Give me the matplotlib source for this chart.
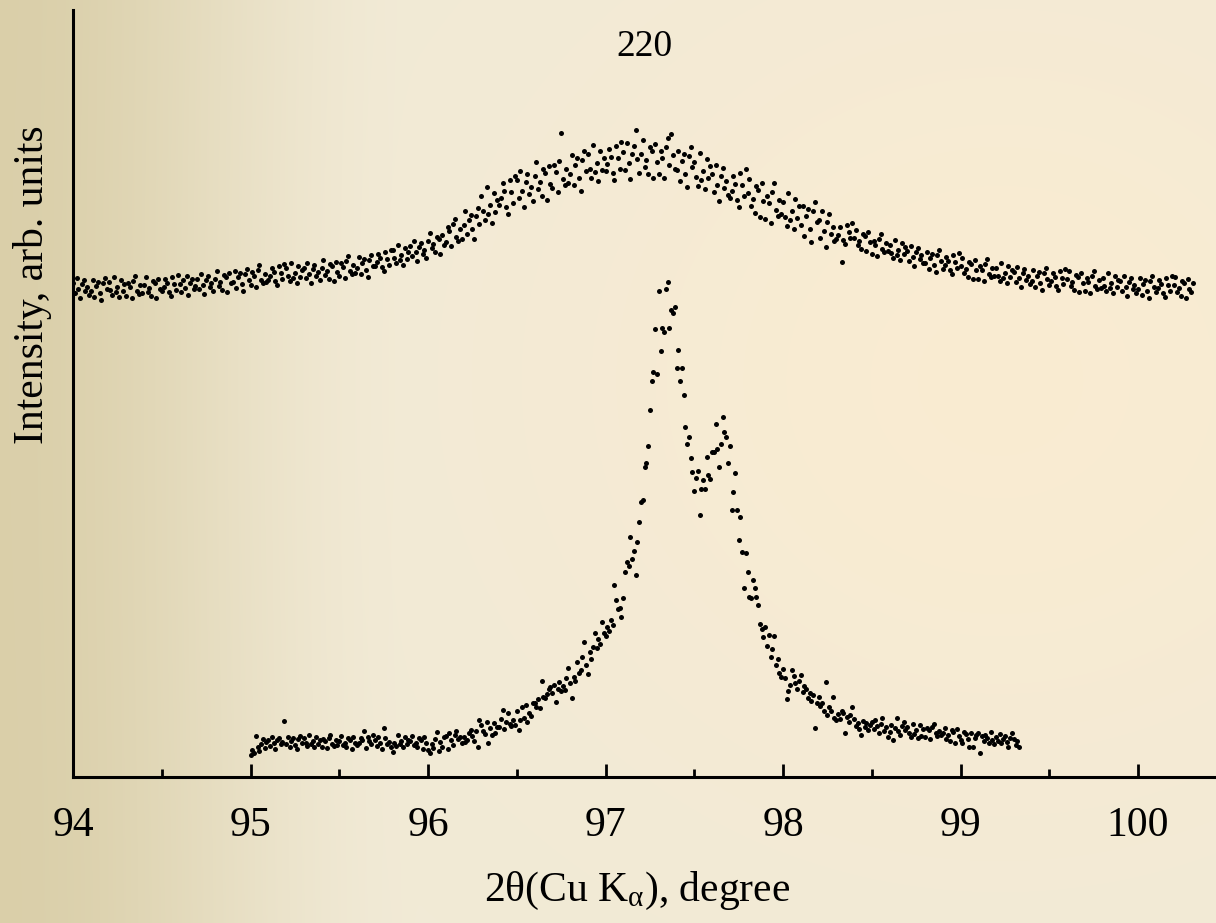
import matplotlib
matplotlib.use("Agg")
import matplotlib.pyplot as plt
import numpy as np

# scan grid: 0.01 degree steps
STEP = 0.01
top_start = 94.00
bottom_start = 95.00

# upper pattern (broad peak), intensity in arb. units
top_counts = [
    494, 484, 499, 488, 479, 493, 497, 486, 490, 482,
    486, 497, 480, 491, 495, 484, 477, 494, 499, 488,
    495, 487, 482, 500, 485, 490, 480, 497, 486, 493,
    481, 494, 490, 479, 496, 501, 486, 483, 492, 484,
    492, 500, 485, 489, 481, 496, 494, 479, 498, 488,
    486, 490, 498, 494, 485, 481, 500, 493, 487, 502,
    493, 485, 497, 489, 501, 482, 494, 498, 488, 491,
    498, 488, 503, 492, 483, 497, 501, 490, 494, 486,
    498, 506, 491, 495, 487, 502, 500, 485, 504, 494,
    495, 506, 489, 500, 504, 493, 486, 503, 508, 497,
    492, 505, 501, 490, 507, 512, 497, 494, 503, 495,
    497, 501, 509, 505, 496, 492, 511, 504, 498, 513,
    509, 501, 496, 514, 499, 504, 494, 511, 500, 507,
    509, 499, 514, 503, 494, 508, 512, 501, 505, 497,
    509, 517, 502, 506, 498, 513, 511, 496, 515, 505,
    501, 514, 510, 499, 516, 521, 506, 503, 512, 504,
    509, 520, 503, 514, 518, 507, 500, 517, 522, 511,
    511, 515, 523, 519, 510, 506, 525, 518, 512, 527,
    527, 519, 514, 532, 517, 522, 512, 529, 518, 525,
    531, 521, 536, 525, 516, 530, 534, 523, 527, 519,
    536, 544, 529, 533, 525, 540, 538, 523, 542, 532,
    535, 550, 546, 531, 553, 558, 540, 536, 548, 538,
    552, 566, 543, 557, 562, 548, 538, 561, 569, 553,
    581, 566, 557, 590, 563, 572, 554, 584, 565, 577,
    572, 579, 594, 586, 570, 563, 597, 585, 574, 601,
    597, 579, 606, 586, 570, 595, 603, 583, 590, 576,
    601, 615, 588, 595, 581, 608, 604, 577, 611, 593,
    589, 612, 605, 585, 616, 644, 598, 592, 608, 594,
    603, 622, 592, 612, 619, 599, 586, 617, 626, 606,
    623, 608, 599, 632, 605, 614, 596, 626, 607, 619,
    606, 613, 628, 620, 604, 597, 631, 619, 608, 635,
    625, 607, 634, 614, 598, 623, 631, 647, 618, 604,
    623, 637, 610, 617, 603, 630, 626, 599, 633, 615,
    603, 626, 619, 599, 630, 639, 612, 643, 622, 608,
    607, 626, 596, 616, 623, 603, 590, 621, 630, 610,
    615, 600, 591, 624, 597, 606, 588, 618, 599, 611,
    603, 585, 612, 592, 576, 601, 609, 589, 596, 582,
    579, 586, 601, 593, 577, 570, 604, 592, 581, 608,
    584, 598, 571, 578, 564, 591, 587, 560, 594, 576,
    558, 581, 574, 554, 585, 594, 567, 561, 577, 563,
    575, 560, 551, 584, 557, 566, 548, 578, 559, 571,
    552, 571, 541, 561, 568, 548, 535, 566, 575, 555,
    557, 539, 566, 546, 530, 555, 563, 543, 550, 536,
    538, 542, 550, 515, 537, 533, 552, 545, 539, 554,
    539, 547, 532, 536, 528, 543, 541, 526, 545, 535,
    523, 536, 532, 521, 538, 543, 528, 525, 534, 526,
    532, 524, 519, 537, 522, 527, 517, 534, 523, 530,
    526, 516, 531, 520, 511, 525, 529, 518, 522, 514,
    514, 525, 508, 519, 523, 512, 505, 522, 527, 516,
    508, 512, 520, 516, 507, 503, 522, 515, 509, 524,
    511, 519, 504, 508, 500, 515, 513, 498, 517, 507,
    498, 511, 507, 496, 513, 518, 503, 500, 509, 501,
    509, 501, 496, 514, 499, 504, 494, 511, 500, 507,
    505, 495, 510, 499, 490, 504, 508, 497, 501, 493,
    496, 507, 490, 501, 505, 494, 487, 504, 509, 498,
    492, 496, 504, 500, 491, 487, 506, 499, 493, 508,
    498, 506, 491, 495, 487, 502, 500, 485, 504, 494,
    486, 499, 495, 484, 501, 506, 491, 488, 497, 489,
    499, 491, 486, 504, 489, 494, 484, 501, 490, 497,
    496, 486, 501, 490, 481, 495, 499, 488, 492, 484,
    488, 499, 482, 493, 497, 486, 479, 496, 501, 490,
    485, 489, 497, 493, 484, 480, 499, 492, 486, 501,
    492, 500, 485, 489, 481, 496, 494, 479, 498, 488,
    485, 494,
]

# lower pattern (sharp K-alpha1 / K-alpha2 doublet)
bottom_counts = [
    22, 27, 24, 41, 30, 26, 33, 38, 29, 35,
    37, 31, 40, 34, 28, 37, 39, 33, 35, 56,
    33, 40, 30, 36, 39, 32, 28, 38, 41, 34,
    39, 34, 31, 42, 33, 36, 30, 40, 33, 37,
    30, 38, 36, 29, 39, 42, 33, 31, 37, 32,
    36, 41, 32, 34, 30, 39, 37, 28, 40, 34,
    32, 34, 39, 37, 46, 29, 40, 36, 33, 42,
    37, 31, 40, 34, 28, 49, 39, 33, 35, 30,
    25, 34, 31, 42, 33, 36, 30, 40, 33, 37,
    36, 41, 32, 34, 30, 39, 37, 28, 40, 34,
    27, 24, 33, 29, 38, 45, 26, 35, 30, 40,
    41, 28, 44, 37, 32, 42, 46, 38, 40, 34,
    40, 35, 37, 44, 47, 41, 36, 46, 30, 57,
    52, 46, 43, 55, 34, 49, 42, 54, 44, 50,
    50, 58, 67, 48, 55, 64, 53, 51, 57, 52,
    66, 47, 57, 70, 59, 72, 55, 64, 61, 74,
    74, 70, 78, 69, 96, 80, 79, 83, 88, 90,
    84, 92, 75, 88, 95, 86, 91, 87, 99, 109,
    94, 79, 100, 96, 115, 104, 107, 120, 135, 112,
    103, 125, 118, 130, 144, 129, 138, 133, 155, 144,
    141, 150, 146, 157, 152, 192, 177, 168, 169, 160,
    179, 205, 215, 211, 240, 218, 226, 202, 235, 255,
    275, 277, 310, 314, 331, 367, 396, 405, 448, 403,
    486, 426, 449, 445, 488, 495, 449, 467, 464, 470,
    409, 427, 396, 409, 382, 350, 333, 340, 319, 305,
    286, 299, 306, 262, 288, 297, 288, 320, 302, 298,
    325, 325, 353, 328, 310, 333, 360, 345, 340, 314,
    331, 267, 285, 304, 267, 237, 260, 225, 189, 224,
    205, 180, 179, 197, 189, 180, 172, 153, 148, 140,
    150, 131, 142, 120, 128, 141, 112, 118, 104, 100,
    108, 99, 78, 86, 92, 107, 101, 94, 88, 96,
    102, 85, 91, 88, 79, 84, 76, 82, 49, 74,
    80, 71, 74, 66, 95, 62, 70, 66, 80, 59,
    57, 63, 58, 66, 64, 44, 60, 55, 62, 70,
    58, 51, 54, 48, 42, 56, 50, 54, 47, 52,
    55, 48, 57, 51, 44, 53, 59, 46, 50, 40,
    45, 52, 37, 49, 59, 46, 42, 51, 55, 47,
    50, 44, 40, 53, 43, 47, 39, 52, 41, 48,
    40, 49, 47, 38, 50, 53, 44, 41, 46, 42,
    44, 49, 38, 42, 36, 47, 45, 34, 48, 41,
    37, 34, 45, 43, 38, 30, 44, 30, 39, 42,
    44, 24, 41, 36, 42, 39, 34, 45, 37, 33,
    40, 36, 43, 34, 38, 41, 35, 30, 39, 44,
    38, 32, 36, 30,
]

major_ticks = [94, 95, 96, 97, 98, 99, 100]
minor_ticks = [94.5, 95.5, 96.5, 97.5, 98.5, 99.5]
peak_label = "220"

x_top = top_start + STEP * np.arange(len(top_counts))
x_bottom = bottom_start + STEP * np.arange(len(bottom_counts))

plt.rcParams['font.family'] = ['Liberation Serif', 'DejaVu Serif']
plt.rcParams['mathtext.fontset'] = 'custom'
plt.rcParams['mathtext.rm'] = 'Liberation Serif'
plt.rcParams['mathtext.it'] = 'Liberation Serif:italic'

W, H = 1216, 923
fig = plt.figure(figsize=(W / 100, H / 100), dpi=100)

# beige background: tan on the left, warm glow right of centre
xx, yy = np.meshgrid(np.arange(W), np.arange(H))
left = np.array([0.855, 0.812, 0.665])
mid = np.array([0.945, 0.918, 0.840])
peach = np.array([0.985, 0.925, 0.820])
t = np.clip(xx / 420.0, 0, 1)
t = t * t * (3 - 2 * t)
bg = left[None, None, :] * (1 - t[..., None]) + mid[None, None, :] * t[..., None]
g = np.exp(-(((xx - 1000) / 330.0) ** 2 + ((yy - 380) / 300.0) ** 2) / 2) * 0.85
bg = bg * (1 - g[..., None]) + peach[None, None, :] * g[..., None]

bg_ax = fig.add_axes([0, 0, 1, 1])
bg_ax.imshow(bg, aspect='auto', extent=[0, 1, 0, 1], zorder=0)
bg_ax.set_axis_off()

ax = fig.add_axes([73 / W, (H - 777) / H, (W - 73) / W, (777 - 10) / H])
ax.patch.set_alpha(0)

ax.plot(x_top, top_counts, 'o', color='black', ms=3.6, mew=0)
ax.plot(x_bottom, bottom_counts, 'o', color='black', ms=3.6, mew=0)

ax.set_xlim(94, 94 + (W - 73) / 177.5)
ax.set_ylim(0, 767)

ax.spines['top'].set_visible(False)
ax.spines['right'].set_visible(False)
ax.spines['left'].set_linewidth(2.2)
ax.spines['bottom'].set_linewidth(2.2)

ax.set_xticks(major_ticks)
ax.set_xticks(minor_ticks, minor=True)
ax.set_yticks([])
ax.tick_params(axis='x', which='major', direction='in', length=9.5, width=2.0,
               labelsize=30, pad=21)
ax.tick_params(axis='x', which='minor', direction='in', length=6, width=2.0)

ax.text(97.22, 730, peak_label, fontsize=27, ha='center', va='center')

fig.text(33 / W, 1 - 285 / H, "Intensity, arb. units", rotation=90,
         fontsize=30, ha='center', va='center')
fig.text(637 / W, 1 - 891 / H, r"2θ(Cu K$_{\mathrm{α}}$), degree",
         fontsize=30, ha='center', va='center')

fig.savefig("out.png", dpi=100)
